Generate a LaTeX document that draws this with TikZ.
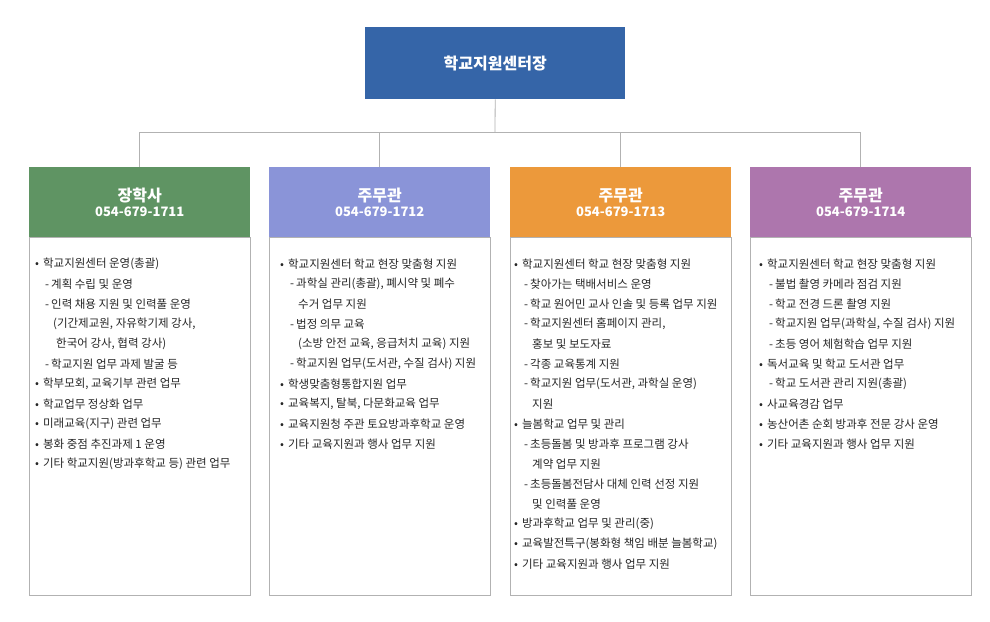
\documentclass[tikz,border=0pt]{standalone}
\usepackage{fontspec}
\setmainfont{Noto Sans CJK KR}
\begin{document}
\begin{tikzpicture}[x=1pt,y=1pt,
  line/.style={draw=black!30,line width=0.8pt},
  hdr/.style={draw=none,minimum width=221pt,minimum height=70pt,anchor=north west,text=white,align=center,inner sep=0pt},
  body/.style={draw=black!30,line width=0.8pt,anchor=north west,minimum width=221pt,minimum height=358pt,inner sep=0pt},
  itemb/.style={anchor=west,inner sep=0pt,font=\fontsize{11.5}{13}\selectfont,text=black!85},
  itemd/.style={itemb},
  itemc/.style={itemb}]
\definecolor{topc}{HTML}{3565A8}
\definecolor{c1}{HTML}{5F9463}
\definecolor{c2}{HTML}{8A94D8}
\definecolor{c3}{HTML}{EC993B}
\definecolor{c4}{HTML}{AD76AD}
\path[fill=white] (0,0) rectangle (990,-621);
\node[fill=topc,minimum width=260pt,minimum height=72pt,anchor=north west,text=white,font=\fontsize{16}{18}\selectfont\bfseries] (top) at (365,-27) {학교지원센터장};
\coordinate (j) at (495,-132);
\node[hdr,fill=c1] (h1) at (29,-167) {{\fontsize{16}{20}\selectfont\bfseries 장학사}\\[3pt]{\fontsize{13}{16}\selectfont\bfseries 054-679-1711}};
\node[hdr,fill=c2] (h2) at (269,-167) {{\fontsize{16}{20}\selectfont\bfseries 주무관}\\[3pt]{\fontsize{13}{16}\selectfont\bfseries 054-679-1712}};
\node[hdr,fill=c3] (h3) at (510,-167) {{\fontsize{16}{20}\selectfont\bfseries 주무관}\\[3pt]{\fontsize{13}{16}\selectfont\bfseries 054-679-1713}};
\node[hdr,fill=c4] (h4) at (750,-167) {{\fontsize{16}{20}\selectfont\bfseries 주무관}\\[3pt]{\fontsize{13}{16}\selectfont\bfseries 054-679-1714}};
\draw[line] (top.south) -- (j);
\draw[line] (h1.north) -- (h1.north |- j) -- (h4.north |- j) -- (h4.north);
\draw[line] (h2.north |- j) -- (h2.north);
\draw[line] (h3.north |- j) -- (h3.north);
\node[body] (b1) at (29,-237) {};
\node[body] (b2) at (269,-237) {};
\node[body] (b3) at (510,-237) {};
\node[body] (b4) at (750,-237) {};
\newcommand\colitems[3]{%
  \foreach \k/\t [count=\i] in {#3} {%
    \pgfmathsetmacro\yy{-264-20*(\i-1)}%
    \if\k b\node[itemb] (#2-\i) at (#1+6,\yy) {•\hspace{4pt}\t};\fi
    \if\k d\node[itemd] (#2-\i) at (#1+16,\yy) {-\hspace{2pt}\t};\fi
    \if\k c\node[itemc] (#2-\i) at (#1+24,\yy) {\t};\fi
  }}
\colitems{29}{a}{b/{학교지원센터 운영(총괄)},d/{계획 수립 및 운영},d/{인력 채용 지원 및 인력풀 운영},c/{(기간제교원, 자유학기제 강사,},c/{\hspace{3pt}한국어 강사, 협력 강사)},d/{학교지원 업무 과제 발굴 등},b/{학부모회, 교육기부 관련 업무},b/{학교업무 정상화 업무},b/{미래교육(지구) 관련 업무},b/{봉화 중점 추진과제 1 운영},b/{기타 학교지원(방과후학교 등) 관련 업무}}
\colitems{274}{bb}{b/{학교지원센터 학교 현장 맞춤형 지원},d/{과학실 관리(총괄), 폐시약 및 폐수},c/{수거 업무 지원},d/{법정 의무 교육},c/{(소방 안전 교육, 응급처치 교육) 지원},d/{학교지원 업무(도서관, 수질 검사) 지원},b/{학생맞춤형통합지원 업무},b/{교육복지, 탈북, 다문화교육 업무},b/{교육지원청 주관 토요방과후학교 운영},b/{기타 교육지원과 행사 업무 지원}}
\colitems{508}{cc}{b/{학교지원센터 학교 현장 맞춤형 지원},d/{찾아가는 택배서비스 운영},d/{학교 원어민 교사 인솔 및 등록 업무 지원},d/{학교지원센터 홈페이지 관리,},c/{홍보 및 보도자료},d/{각종 교육통계 지원},d/{학교지원 업무(도서관, 과학실 운영)},c/{지원},b/{늘봄학교 업무 및 관리},d/{초등돌봄 및 방과후 프로그램 강사},c/{계약 업무 지원},d/{초등돌봄전담사 대체 인력 선정 지원},c/{및 인력풀 운영},b/{방과후학교 업무 및 관리(중)},b/{교육발전특구(봉화형 책임 배분 늘봄학교)},b/{기타 교육지원과 행사 업무 지원}}
\colitems{753}{dd}{b/{학교지원센터 학교 현장 맞춤형 지원},d/{불법 촬영 카메라 점검 지원},d/{학교 전경 드론 촬영 지원},d/{학교지원 업무(과학실, 수질 검사) 지원},d/{초등 영어 체험학습 업무 지원},b/{독서교육 및 학교 도서관 업무},d/{학교 도서관 관리 지원(총괄)},b/{사교육경감 업무},b/{농산어촌 순회 방과후 전문 강사 운영},b/{기타 교육지원과 행사 업무 지원}}
\end{tikzpicture}
\end{document}
